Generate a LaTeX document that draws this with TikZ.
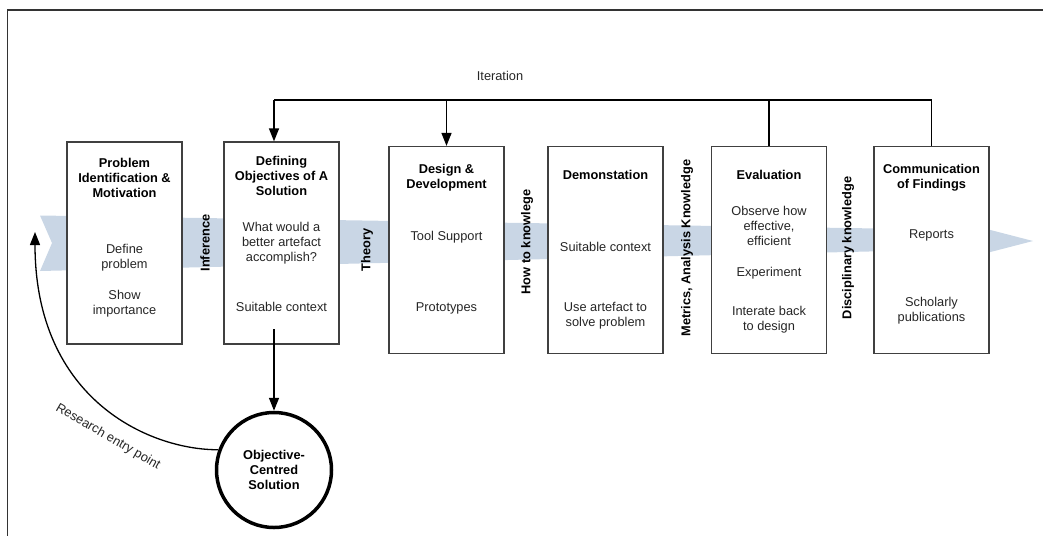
\documentclass[tikz,border=0pt]{standalone}
\usepackage{fontspec}
\setmainfont{Liberation Sans}
\usetikzlibrary{arrows.meta}
\definecolor{bandblue}{RGB}{201,214,229}
\def\band{(40,215.5) -- (975,230) -- (975,226) -- (1033,241) -- (975,256) -- (975,249) -- (40,271) -- (52,243) -- cycle}

\begin{document}
\begin{tikzpicture}[x=1pt,y=-1pt,
  font=\fontsize{12.8}{15}\selectfont,
  stage/.style={draw=black!75,line width=1.3pt,fill=white,minimum width=115pt,inner sep=0pt},
  title/.style={font=\fontsize{12.8}{15}\selectfont\bfseries,align=center},
  body/.style={align=center,text=black!85},
  flow/.style={font=\fontsize{12.8}{15}\selectfont\bfseries,rotate=90},
  link/.style={line width=1.5pt},
  arr/.style={link,-{Triangle[length=13pt,width=10pt]}}]

\useasboundingbox (0,0) rectangle (1043,536);
\draw[black!80,line width=1.2pt] (1043,10) -- (7.5,10) -- (7.5,536);

% the flow band behind the stages
\fill[bandblue] \band;

\begin{scope}
    \node[stage,minimum height=202pt] (prob) at (124.5,243) {};
    \node[stage,minimum height=202pt] (defn) at (281.5,243) {};
    \node[stage,minimum height=207pt] (design) at (446.5,250) {};
    \node[stage,minimum height=207pt] (demo) at (605.5,250) {};
    \node[stage,minimum height=207pt] (eval) at (769,250) {};
    \node[stage,minimum height=207pt] (comm) at (931.5,250) {};
\end{scope}

% stage texts
\node[title] (probT) at (124.5,178) {Problem\\Identification \&\\Motivation};
\node[body] (probA) at (124.5,258) {Define\\problem};
\node[body] (probB) at (124.5,304) {Show\\importance};

\node[title] (defnT) at (281.5,176) {Defining\\Objectives of A\\Solution};
\node[body] (defnA) at (281.5,243) {What would a\\better artefact\\accomplish?};
\node[body] (defnB) at (281.5,307) {Suitable context};

\node[title] (designT) at (446.5,178) {Design \&\\Development};
\node[body] (designA) at (446.5,237) {Tool Support};
\node[body] (designB) at (446.5,308) {Prototypes};

\node[title] (demoT) at (605.5,175) {Demonstation};
\node[body] (demoA) at (605.5,247) {Suitable context};
\node[body] (demoB) at (605.5,316) {Use artefact to\\solve problem};

\node[title] (evalT) at (769,175) {Evaluation};
\node[body] (evalA) at (769,226) {Observe how\\effective,\\efficient};
\node[body] (evalB) at (769,273) {Experiment};
\node[body] (evalC) at (769,320) {Interate back\\to design};

\node[title] (commT) at (931.5,178) {Communication\\of Findings};
\node[body] (commA) at (931.5,235) {Reports};
\node[body] (commB) at (931.5,311) {Scholarly\\publications};

% knowledge between stages
\node[flow] (inf) at (205,243) {Inference};
\node[flow] (theo) at (367,250) {Theory};
\node[flow] (how) at (527,242) {How to knowlege};
\node[flow] (metr) at (687,248) {Metrics, Analysis Knowledge};
\node[flow] (disc) at (848,248) {Disciplinary knowledge};

% iteration loop
\coordinate (itA) at (274,100);
\coordinate (defOut) at (274,329);
\node[text=black!85] (iter) at (500,76) {Iteration};
\draw[link] (comm.north) |- (itA);
\draw[link] (eval.north) -- (eval.north |- itA);
\draw[arr] (design.north |- itA) -- (design.north);
\draw[arr] (itA) -- (defn.north -| itA);

% entry point
\node[circle,draw,line width=3.5pt,minimum size=115pt,inner sep=0pt,title] (sol) at (274,470) {Objective-\\Centred\\Solution};
\draw[arr] (defOut) -- (sol.north);
\coordinate (entry) at (35,232);
\draw[arr,line width=1.3pt] (sol.160) .. controls (150,450) and (35,400) .. (entry);
\node[rotate=-30,text=black!85] (entryT) at (108,437) {Research entry point};

\end{tikzpicture}
\end{document}
